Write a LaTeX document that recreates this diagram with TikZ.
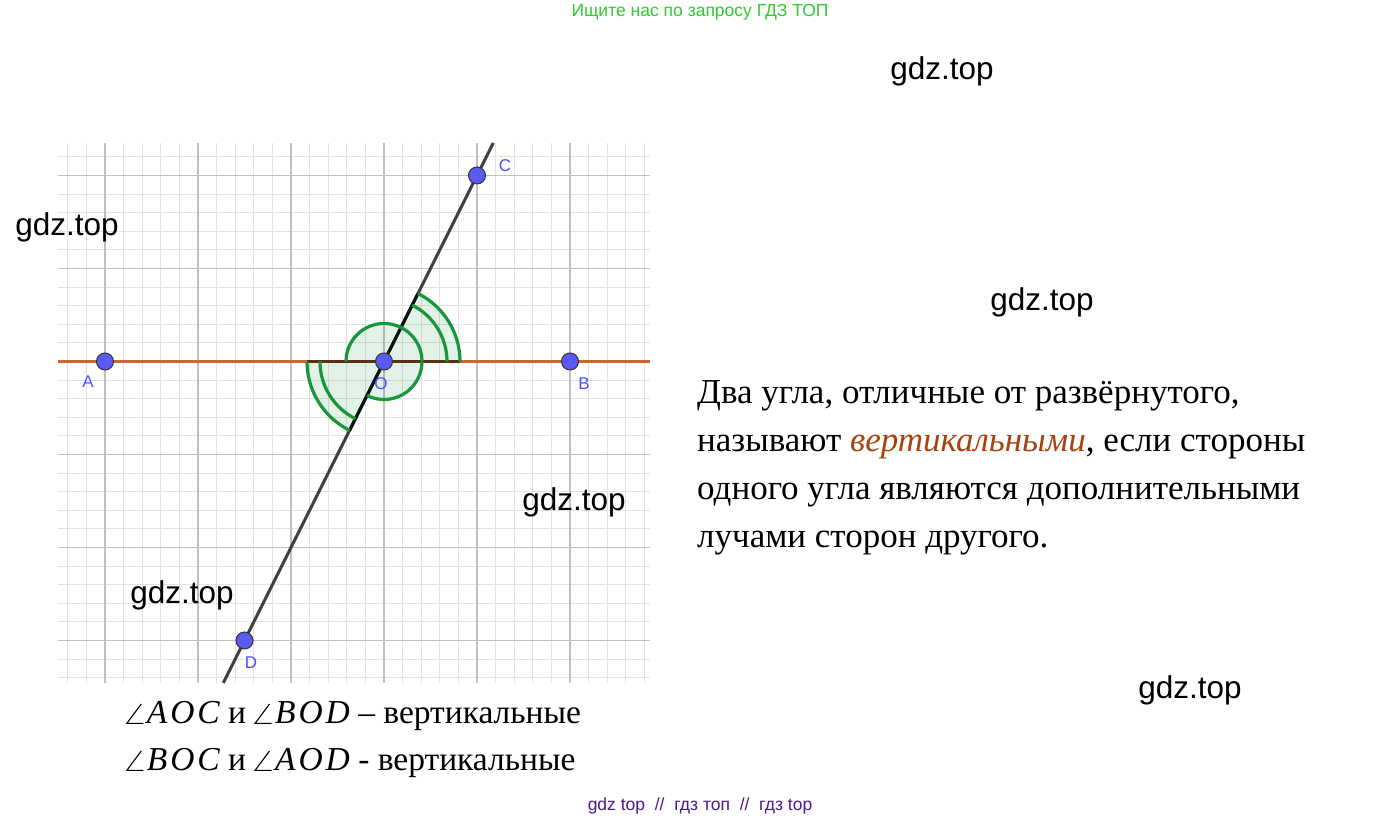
\documentclass[tikz,border=0pt]{standalone}
\usepackage{fontspec}
\setmainfont{Liberation Serif}
\setsansfont{Liberation Sans}
\usetikzlibrary{calc}
\definecolor{minorgrid}{HTML}{E2E2E2}
\definecolor{majorgrid}{HTML}{C0C0C0}
\definecolor{abline}{HTML}{CC6633}
\definecolor{cdline}{HTML}{404040}
\definecolor{anggreen}{HTML}{18963A}
\definecolor{ptblue}{HTML}{5A5AF5}
\definecolor{lblblue}{HTML}{4F4FFF}
\definecolor{termbrown}{HTML}{A8420E}
\definecolor{topgreen}{HTML}{2ECC2E}
\definecolor{botpurple}{HTML}{4B1A8C}
\newcommand{\angsign}{\tikz[baseline=0pt,x=1pt,y=1pt]{\draw[line width=1.1pt,line join=miter] (15,20) -- (0.5,0.55) -- (17,0.55);}}
\newcommand{\myang}[1]{\angsign\kern3pt{\itshape #1}}
\begin{document}
\begin{tikzpicture}[x=1pt,y=1pt,
  minorline/.style={draw=minorgrid,line width=1pt},
  majorline/.style={draw=majorgrid,line width=1.6pt},
  anglefill/.style={fill=anggreen,fill opacity=0.12},
  anglearc/.style={draw=anggreen,line width=3.2pt},
  pointdot/.style={circle,fill=ptblue,draw=black!80,line width=1pt,minimum size=17pt,inner sep=0pt},
  ptlabel/.style={text=lblblue,font=\sffamily\fontsize{17}{17}\selectfont,inner sep=0pt},
  wm/.style={font=\sffamily\fontsize{31.5}{31.5}\selectfont,inner sep=0pt},
  para/.style={font=\fontsize{35}{35}\selectfont,anchor=base west,inner sep=0pt},
  formula/.style={font=\fontsize{33.5}{33.5}\selectfont,anchor=base west,inner sep=0pt}]
\useasboundingbox (0,0) rectangle (1400,821);
\fill[white] (0,0) rectangle (1400,821);
% grid
\foreach \k in {-2,...,29} {\pgfmathsetmacro\xx{105+18.6*\k}\draw[minorline] (\xx,138) -- (\xx,678);}
\foreach \k in {-17,...,11} {\pgfmathsetmacro\yy{459.5+18.6*\k}\draw[minorline] (58,\yy) -- (650,\yy);}
\foreach \k in {0,...,5} {\pgfmathsetmacro\xx{105+93*\k}\draw[majorline] (\xx,138) -- (\xx,678);}
\foreach \k in {-3,...,2} {\pgfmathsetmacro\yy{459.5+93*\k}\draw[majorline] (58,\yy) -- (650,\yy);}
% points
\coordinate (O) at (384,459.5);
\coordinate (A) at (105,459.5);
\coordinate (B) at (570,459.5);
\coordinate (C) at (477,645.5);
\coordinate (D) at (244.5,180.5);
\coordinate (Lleft) at (58,459.5);
\coordinate (Lright) at (650,459.5);
\coordinate (Llow) at (223.25,138);
\coordinate (Lhigh) at (493.25,678);
% angle fills
\fill[anglefill] (O) -- ++(0:76) arc[start angle=0,end angle=63.43,radius=76] -- cycle;
\fill[anglefill] (O) -- ++(180:77) arc[start angle=180,end angle=243.43,radius=77] -- cycle;
\fill[anglefill] (O) -- ++(63.43:38) arc[start angle=63.43,end angle=180,radius=38] -- cycle;
\fill[anglefill] (O) -- ++(243.43:38) arc[start angle=243.43,end angle=360,radius=38] -- cycle;
% lines
\draw[abline,line width=3pt] (Lleft) -- (Lright);
\draw[cdline,line width=3pt] (Llow) -- (Lhigh);
\draw[draw=black!55!abline,line width=3pt] ($(O)+(-77,0)$) -- ($(O)+(76,0)$);
\draw[draw=black!85!anggreen,line width=3pt] ($(O)+(243.43:77)$) -- ($(O)+(63.43:76)$);
% arcs
\draw[anglearc] (O) ++(0:38) arc[start angle=0,end angle=180,radius=38];
\draw[anglearc] (O) ++(243.43:38) arc[start angle=243.43,end angle=360,radius=38];
\draw[anglearc] (O) ++(0:63) arc[start angle=0,end angle=63.43,radius=63];
\draw[anglearc] (O) ++(0:76) arc[start angle=0,end angle=63.43,radius=76];
\draw[anglearc] (O) ++(180:64) arc[start angle=180,end angle=243.43,radius=64];
\draw[anglearc] (O) ++(180:77) arc[start angle=180,end angle=243.43,radius=77];
% point dots
\node[pointdot] (pA) at (A) {};
\node[pointdot] (pB) at (B) {};
\node[pointdot] (pC) at (C) {};
\node[pointdot] (pD) at (D) {};
\node[pointdot] (pO) at (O) {};
\node[ptlabel] (lA) at (88,439) {A};
\node[ptlabel] (lB) at (584,437) {B};
\node[ptlabel] (lC) at (505,655) {C};
\node[ptlabel] (lD) at (251,158) {D};
\node[ptlabel] (lO) at (381,437) {O};
% watermarks
\node[text=topgreen,font=\sffamily\fontsize{17.5}{17.5}\selectfont,inner sep=0pt] (top) at (700,809) {Ищите нас по запросу ГДЗ ТОП};
\node[wm] (w1) at (942,750) {gdz.top};
\node[wm] (w2) at (67,594) {gdz.top};
\node[wm] (w3) at (1042,519) {gdz.top};
\node[wm] (w4) at (574,319) {gdz.top};
\node[wm] (w5) at (182,226) {gdz.top};
\node[wm] (w6) at (1190,131) {gdz.top};
% paragraph
\node[para] (p1) at (697,417) {Два угла, отличные от развёрнутого,};
\node[para] (p2) at (697,369) {называют {\color{termbrown}\itshape вертикальными}, если стороны};
\node[para] (p3) at (697,321) {одного угла являются дополнительными};
\node[para] (p4) at (697,273) {лучами сторон другого.};
% formulas
\node[formula] (f1) at (126,97) {\myang{A\kern3ptO\kern3ptC} и \myang{B\kern3ptO\kern3ptD} – вертикальные};
\node[formula] (f2) at (126,50) {\myang{B\kern3ptO\kern3ptC} и \myang{A\kern3ptO\kern3ptD} - вертикальные};
\node[text=botpurple,font=\sffamily\fontsize{17.5}{17.5}\selectfont,inner sep=0pt] (bot) at (700,15) {gdz top\ \ //\ \ гдз топ\ \ //\ \ гдз top};
\end{tikzpicture}
\end{document}
